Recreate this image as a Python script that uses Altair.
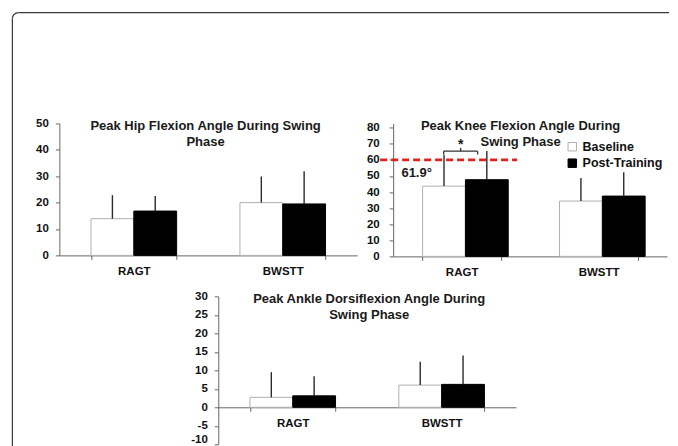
import altair as alt
import pandas as pd

groups = ["RAGT", "BWSTT"]
conditions = ["Baseline", "Post-Training"]

hip_mean = [13.9, 16.8, 20.0, 19.5]
hip_sd = [8.9, 5.7, 9.9, 12.4]
knee_mean = [43.7, 47.7, 34.4, 37.5]
knee_sd = [19.5, 17.8, 14.3, 14.9]
ankle_mean = [2.7, 3.1, 6.0, 6.2]
ankle_sd = [6.8, 5.3, 6.3, 7.8]

hip_ticks = [0, 10, 20, 30, 40, 50]
knee_ticks = [0, 10, 20, 30, 40, 50, 60, 70, 80]
ankle_ticks = [-10, -5, 0, 5, 10, 15, 20, 25, 30]

hip_title = "Peak Hip Flexion Angle During Swing\nPhase"
knee_title = "Peak Knee Flexion Angle During\nSwing Phase"
ankle_title = "Peak Ankle Dorsiflexion Angle During\nSwing Phase"

threshold = [60]
threshold_label = ["61.9°"]
sig_label = ["*"]

FONT = "Arial, Liberation Sans, sans-serif"
one = pd.DataFrame({"k": [0]})


def make_df(mean, sd):
    return pd.DataFrame({
        "group": [g for g in groups for _ in conditions],
        "condition": conditions * 2,
        "mean": mean,
        "top": [m + s for m, s in zip(mean, sd)],
    })


def y_parts(dom, ticks, yoff=0, lpad=7):
    scale = alt.Scale(domain=dom, nice=False, zero=False)
    axis = alt.Axis(title=None, values=ticks, grid=False, tickSize=4,
                    labelPadding=lpad, offset=yoff,
                    labelExpr="'' + datum.value",
                    labelBaseline={"condition": {"test": "datum.value == %s" % ticks[0]
                                                 if ticks[0] < 0 else "false",
                                                 "value": "bottom"},
                                   "value": "middle"})
    return scale, axis


def panel(mean, sd, dom, ticks, title, tx, ty, xoff=0, yoff=0, xrange=None,
          legend=None, pin=0.425, lpad=7):
    df = make_df(mean, sd)
    xax = alt.Axis(title=None, tickBand="extent", labelAngle=0, offset=xoff,
                   labelPadding=6, tickSize=4)
    if xrange is None:
        xs = alt.Scale(paddingInner=pin, paddingOuter=pin / 2)
    else:
        xs = alt.Scale(paddingInner=pin, paddingOuter=pin / 2, range=xrange)
    x = alt.X("group:N", sort=groups, scale=xs, axis=xax)
    xo = alt.XOffset("condition:N", sort=conditions,
                     scale=alt.Scale(paddingInner=0, paddingOuter=0))
    ys, yax = y_parts(dom, ticks, yoff, lpad)
    y = alt.Y("mean:Q", scale=ys, axis=yax)
    color = alt.Color("condition:N", sort=conditions,
                      scale=alt.Scale(domain=conditions, range=["#ffffff", "#000000"]),
                      legend=legend)
    stroke = alt.Stroke("condition:N", sort=conditions,
                        scale=alt.Scale(domain=conditions, range=["#b0b0b0", "#000000"]),
                        legend=None)
    bars = alt.Chart(df).mark_bar(strokeWidth=1).encode(
        x=x, xOffset=xo, y=y, color=color, stroke=stroke)
    err = alt.Chart(df).mark_rule(color="#2a2a2a", strokeWidth=1.4).encode(
        x=x, xOffset=xo, y=y, y2="top:Q")
    ttl = alt.Chart(pd.DataFrame({"t": [title]})).mark_text(
        align="center", baseline="alphabetic", lineBreak="\n", lineHeight=16,
        font=FONT, fontSize=13, fontWeight="bold", color="#1a1a1a").encode(
        text="t:N", x=alt.value(tx), y=alt.value(ty))
    return [bars, err, ttl]


# Hip panel (carries the figure frame: top and left edges with a rounded corner)
hip_layers = panel(hip_mean, hip_sd, [0, 50], hip_ticks, hip_title, 146.3, 6.7)
FR = 6
fx, fy = -47, -111
frame_top = alt.Chart(one).mark_rule(color="#3a3a3a", strokeWidth=1.2).encode(
    x=alt.value(fx + FR), x2=alt.value(610), y=alt.value(fy))
frame_left = alt.Chart(one).mark_rule(color="#3a3a3a", strokeWidth=1.2).encode(
    x=alt.value(fx), y=alt.value(fy + FR), y2=alt.value(340))
frame_corner = alt.Chart(one).mark_arc(color="#3a3a3a").encode(
    x=alt.value(fx + FR), y=alt.value(fy + FR),
    radius=alt.value(FR + 0.6), radius2=alt.value(FR - 0.6),
    theta=alt.value(4.7124), theta2=alt.value(6.2832))
hip = alt.layer(frame_top, frame_left, frame_corner, *hip_layers).properties(
    width=298, height=132)

# Knee panel
leg = alt.Legend(orient="none", legendX=173, legendY=17, title=None,
                 symbolType="square", symbolSize=72, labelFont=FONT,
                 labelFontSize=12.5, labelFontWeight="bold", labelColor="#111111",
                 rowPadding=3.5, labelOffset=4, symbolStrokeColor="#9a9a9a",
                 symbolStrokeWidth=1, padding=0)
KNEE_DOM = [0, 82.67]
knee_layers = panel(knee_mean, knee_sd, KNEE_DOM, knee_ticks, knee_title,
                    127.5, 6.7, legend=leg, pin=0.43, lpad=10)
kys, kyax = y_parts(KNEE_DOM, knee_ticks, 0, 10)
thr = alt.Chart(pd.DataFrame({"v": threshold})).mark_rule(
    color="#e0211c", strokeWidth=2.6, strokeDash=[7, 4]).encode(
    y=alt.Y("v:Q", scale=kys, axis=kyax), x=alt.value(-13), x2=alt.value(124))
thr_txt = alt.Chart(pd.DataFrame({"t": threshold_label})).mark_text(
    align="center", baseline="alphabetic", font=FONT, fontSize=13,
    fontWeight="bold", color="#1a1a1a").encode(
    text="t:N", x=alt.value(23.5), y=alt.value(53.3))
br_h = alt.Chart(one).mark_rule(color="#333", strokeWidth=1.3).encode(
    x=alt.value(50.5), x2=alt.value(84.5), y=alt.value(27.7))
br_l = alt.Chart(one).mark_rule(color="#333", strokeWidth=1.3).encode(
    x=alt.value(50.5), y=alt.value(27.7), y2=alt.value(31))
br_r = alt.Chart(one).mark_rule(color="#333", strokeWidth=1.3).encode(
    x=alt.value(84.5), y=alt.value(27.7), y2=alt.value(31))
br_m = alt.Chart(one).mark_rule(color="#333", strokeWidth=1.3).encode(
    x=alt.value(67.5), y=alt.value(24.5), y2=alt.value(27.7))
sig = alt.Chart(pd.DataFrame({"t": sig_label})).mark_text(
    align="center", baseline="alphabetic", font=FONT, fontSize=14,
    fontWeight="bold", color="#1a1a1a").encode(
    text="t:N", x=alt.value(67.5), y=alt.value(26))
knee = alt.layer(*knee_layers, thr, thr_txt, br_h, br_l, br_r, br_m, sig).properties(
    width=274, height=133)

# Ankle panel: sits in the first column, shifted right by 159 px
SHIFT = 159
ankle_layers = panel(ankle_mean, ankle_sd, [-10, 30], ankle_ticks, ankle_title,
                     SHIFT + 151, 7, xoff=-37, yoff=-SHIFT,
                     xrange=[SHIFT, SHIFT + 298])
ankle = alt.layer(*ankle_layers).properties(width=298, height=148)

chart = alt.concat(
    hip, knee, ankle, columns=2, bounds="flush",
    align={"row": "each", "column": "all"},
    spacing={"row": 40, "column": 36},
).resolve_scale(
    color="independent", stroke="independent"
).resolve_legend(
    color="independent", stroke="independent"
).properties(
    padding={"left": 3.4, "top": 3.4, "right": 0, "bottom": 0},
    background="white",
).configure_view(
    strokeWidth=0
).configure_axis(
    domainColor="#666666", tickColor="#666666", labelColor="#111111",
    labelFont=FONT, labelFontSize=11.5, labelFontWeight="bold",
    domainWidth=1, tickWidth=1,
)

chart.save("out.html", embed_options={"renderer": "svg", "actions": False})
